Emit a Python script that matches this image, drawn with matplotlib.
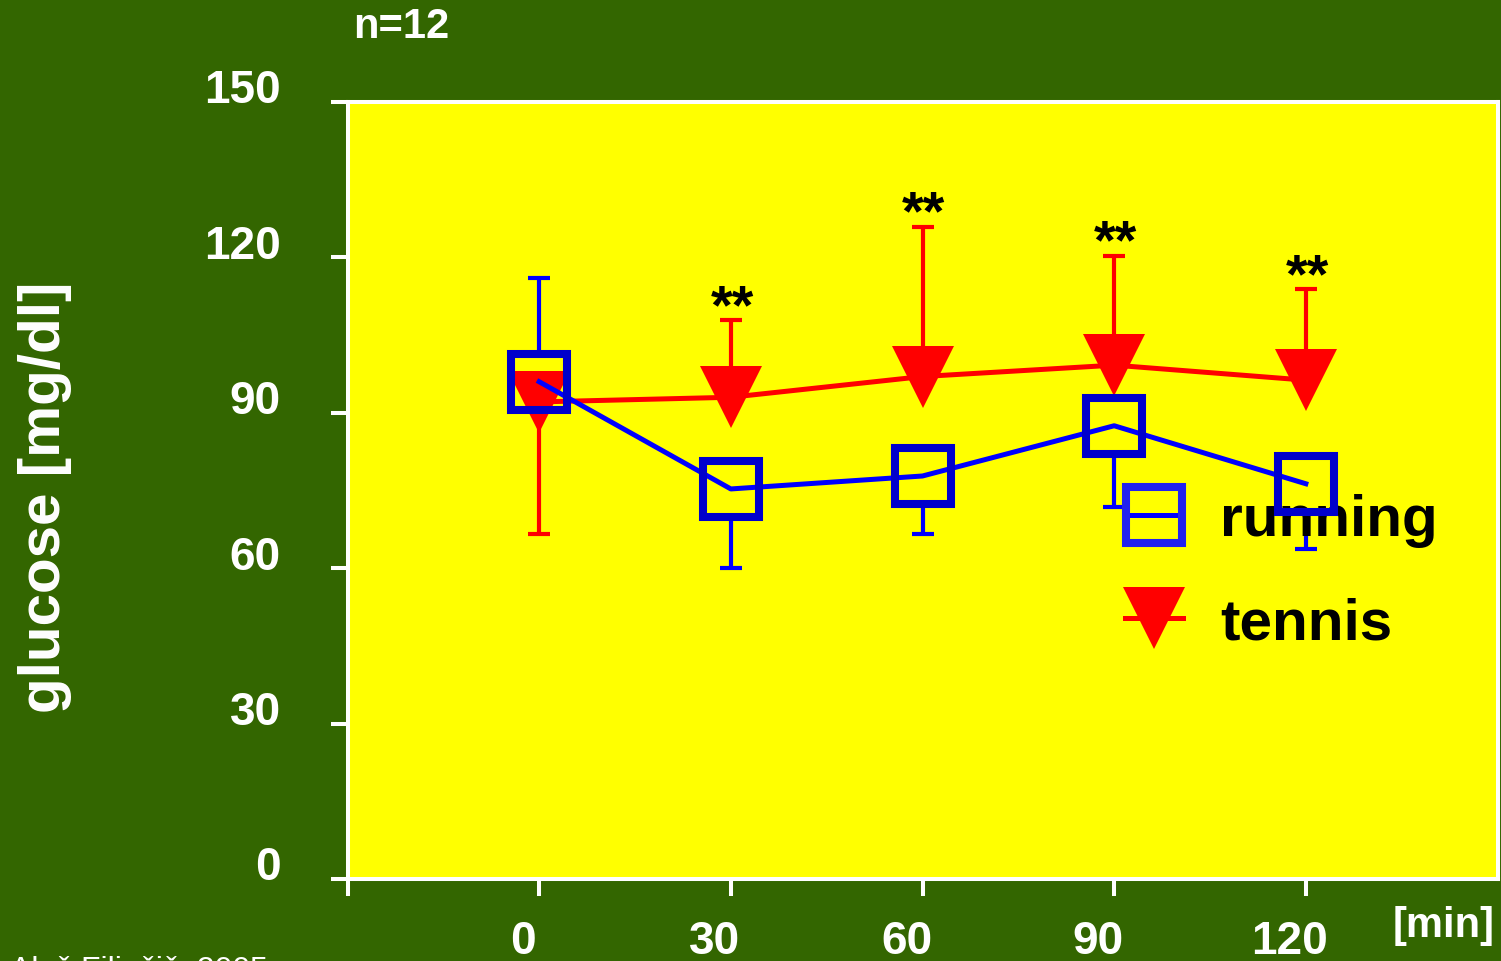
import matplotlib
matplotlib.use("Agg")
import matplotlib.pyplot as plt
from matplotlib.lines import Line2D
from matplotlib.transforms import ScaledTranslation

plt.rcParams['font.family'] = ['Liberation Sans', 'DejaVu Sans']
plt.rcParams['font.weight'] = 'bold'

# --- data -------------------------------------------------------------
minutes = [0, 30, 60, 90, 120]
running = [96.0, 75.3, 77.8, 87.5, 76.3]
running_err_lo = [0, 15.3, 11.2, 15.6, 12.6]
running_err_hi = [20.0, 0, 0, 0, 0]
tennis = [92.1, 93.0, 97.0, 99.2, 96.3]
tennis_err_lo = [25.5, 0, 0, 0, 0]
tennis_err_hi = [0, 14.9, 28.9, 21.1, 17.6]
signif = ['', '**', '**', '**', '**']
xtick_vals = [-30, 0, 30, 60, 90, 120]
xtick_labels = ['', '0', '30', '60', '90', '120']
ytick_vals = [0, 30, 60, 90, 120, 150]

GREEN = '#336600'
YELLOW = '#FFFF00'
BLUE = '#0000FF'
BLUE_EDGE = '#0000CC'
RED = '#FF0000'

W, H = 1501, 962
fig = plt.figure(figsize=(W / 100, H / 100), dpi=100, facecolor=GREEN)
ax = fig.add_axes([347.5 / W, (H - 880) / H, (1497.5 - 347.5) / W, (880 - 103) / H])
ax.set_facecolor(YELLOW)
ax.set_xlim(-30, 150)
ax.set_ylim(0, 150)

for sp in ax.spines.values():
    sp.set_color('white')
    sp.set_linewidth(2.9)

ax.set_xticks(xtick_vals)
ax.set_xticklabels(xtick_labels)
ax.set_yticks(ytick_vals)
ax.set_yticklabels([str(v) for v in ytick_vals])
ax.tick_params(axis='both', colors='white', width=2.9, length=12,
               labelsize=33, direction='out')
ax.tick_params(axis='y', pad=36)
ax.tick_params(axis='x', pad=17)
for lab in ax.get_yticklabels():
    lab.set_fontweight('bold')
    lab.set_transform(lab.get_transform() + ScaledTranslation(0, 0.165, fig.dpi_scale_trans))
for lab in ax.get_xticklabels():
    lab.set_fontweight('bold')
    lab.set_transform(lab.get_transform() + ScaledTranslation(-0.16, 0, fig.dpi_scale_trans))


def draw_bars(x, y, lo, hi, color, z):
    for xi, yi, l, h in zip(x, y, lo, hi):
        if h:
            ax.plot([xi, xi], [yi, yi + h], color=color, lw=3.0, zorder=z,
                    solid_capstyle='butt')
            ax.plot([xi], [yi + h], marker='_', ms=16, mew=3.0, color=color, zorder=z)
        if l:
            ax.plot([xi, xi], [yi, yi - l], color=color, lw=3.0, zorder=z,
                    solid_capstyle='butt')
            ax.plot([xi], [yi - l], marker='_', ms=16, mew=3.0, color=color, zorder=z)


SQ_MS, SQ_MEW = 40, 5.8
TRI_MS = 44.5

# running error bars, hidden inside the hollow squares by a yellow fill
draw_bars(minutes, running, running_err_lo, running_err_hi, BLUE, 2)
ax.plot(minutes, running, ls='none', marker='s', ms=SQ_MS, mew=0,
        mfc=YELLOW, zorder=3)

# tennis series
draw_bars(minutes, tennis, tennis_err_lo, tennis_err_hi, RED, 4)
ax.plot(minutes, tennis, color=RED, lw=3.6, zorder=5)
ax.plot(minutes, tennis, ls='none', marker='v', ms=TRI_MS, mew=0, mfc=RED, zorder=5)

# running line and square outlines on top
ax.plot(minutes, running, color=BLUE, lw=3.6, zorder=6)
ax.plot(minutes, running, ls='none', marker='s', ms=SQ_MS, mew=SQ_MEW,
        mec=BLUE_EDGE, mfc='none', zorder=7)

# significance marks above the tennis error bars
for xi, yi, h, s in zip(minutes, tennis, tennis_err_hi, signif):
    if s:
        ax.annotate(s, (xi, yi + h), xytext=(1, -10), textcoords='offset points',
                    ha='center', va='bottom', fontsize=40, fontweight='bold',
                    color='black', zorder=8)

handles = [
    Line2D([], [], color=BLUE, lw=3.6, marker='s', ms=SQ_MS, mew=SQ_MEW,
           mec='#2222EE', mfc='none'),
    Line2D([], [], color=RED, lw=3.6, marker='v', ms=TRI_MS, mew=0, mfc=RED),
]
leg = ax.legend(handles, ['running', 'tennis'], loc='upper left',
                bbox_to_anchor=(1125 / W, 1 - 494 / H), bbox_transform=fig.transFigure,
                frameon=False, fontsize=42, handlelength=1.0, handletextpad=0.63,
                labelspacing=0.84, borderpad=0, borderaxespad=0)
for t in leg.get_texts():
    t.set_fontweight('bold')

fig.text(45 / W, 1 - 497 / H, 'glucose [mg/dl]', rotation=90, ha='center',
         va='center', fontsize=42, fontweight='bold', color='white')
fig.text(353 / W, 1 - 27 / H, 'n=12', ha='left', va='center', fontsize=30,
         fontweight='bold', color='white')
fig.text(1495 / W, 1 - 926 / H, '[min]', ha='right', va='center', fontsize=30,
         fontweight='bold', color='white')
fig.text(10 / W, 1 - 979 / H, 'Aleš Filipčič, 2005', ha='left', va='baseline',
         fontsize=23, fontweight='normal', color='white')

fig.savefig('out.png', dpi=100, facecolor=GREEN)
